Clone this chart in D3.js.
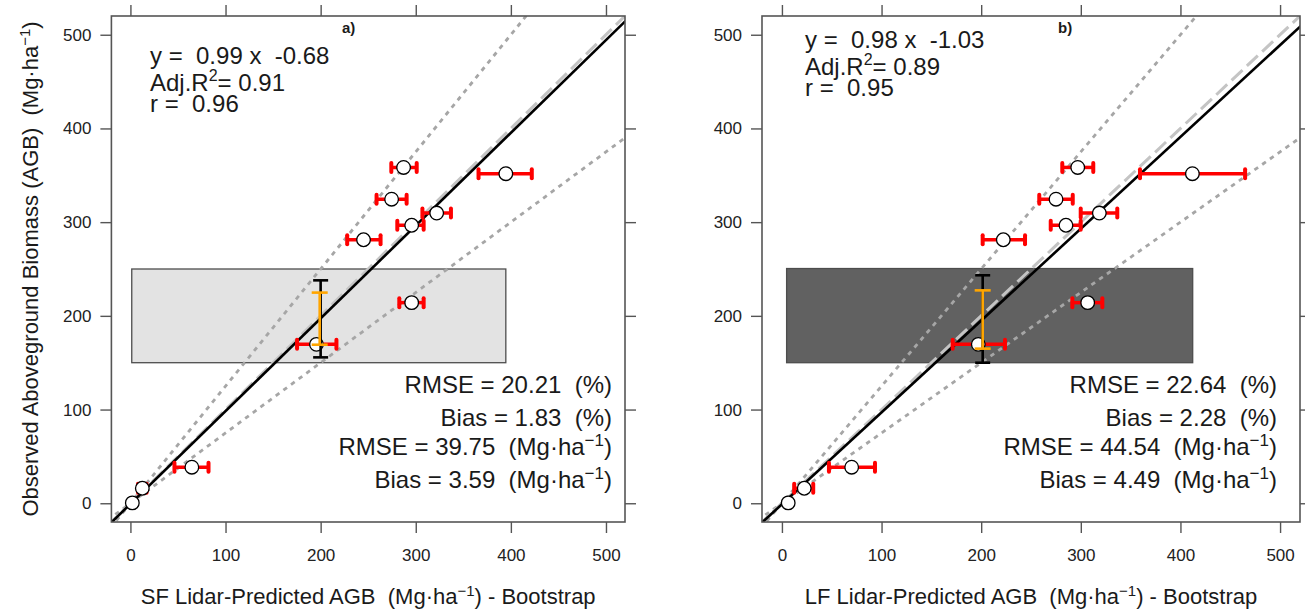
<!DOCTYPE html>
<html>
<head>
<meta charset="utf-8">
<script src="https://cdn.jsdelivr.net/npm/d3@7/dist/d3.min.js"></script>
<style>
  body { margin: 0; background: #ffffff; }
  svg { display: block; font-family: "Liberation Sans", Arial, Helvetica, sans-serif; }
  svg text { white-space: pre; }
</style>
</head>
<body>
<script>
// ---------------------------------- DATOS ---------------------------------------------------
// AGB observada (igual en los dos paneles)
const OBS_AGB = [0.4, 16.0, 38.5, 169.6, 214.1, 281.2, 296.7, 309.7, 324.5, 351.7, 358.4];

// panel a) SF - prediccion bootstrap y su intervalo
const SF_PRED = [2.0, 12.5, 64.6, 195.6, 295.7, 245.1, 295.7, 322.0, 274.6, 394.7, 287.2];
const SF_LO   = [0.5, 8.0, 46.3, 175.2, 282.7, 227.9, 280.6, 307.0, 258.8, 366.0, 274.3];
const SF_HI   = [3.5, 17.0, 82.1, 216.6, 308.3, 263.0, 308.3, 337.0, 290.4, 422.0, 301.0];

// panel b) LF
const LF_PRED = [6.3, 22.4, 70.0, 197.1, 306.9, 222.2, 285.1, 318.6, 275.1, 412.0, 296.9];
const LF_LO   = [4.5, 12.3, 47.2, 171.4, 291.5, 201.5, 269.8, 299.9, 258.3, 359.4, 281.4];
const LF_HI   = [8.0, 31.4, 93.4, 223.9, 321.6, 244.0, 299.9, 336.6, 291.9, 464.9, 312.5];

// ajuste lineal [pendiente, intercepto]
const SF_FIT = [0.99, -0.68];
const LF_FIT = [0.98, -1.03];

// rango 150-250 (rectangulo) y barras verticales [x, min, max]
const SF_RECT = [1.4, 394.7, 150, 250];
const LF_RECT = [4.7, 412.3, 150, 250.5];
const SF_BAR_BLACK  = [200, 155.7, 237.9];
const SF_BAR_ORANGE = [199, 169.2, 224.8];
const LF_BAR_BLACK  = [201.5, 150, 243.3];
const LF_BAR_ORANGE = [201.5, 165, 227.2];

// lineas punteadas (pendientes por el origen)
const DOTTED_SLOPES = [1.25, 0.75];

const TICKS = [0, 100, 200, 300, 400, 500];
const DOMAIN = [-20, 520];

// textos
const SF_EQ = ["y =  0.99 x  -0.68", "0.91", "r =  0.96"];
const LF_EQ = ["y =  0.98 x  -1.03", "0.89", "r =  0.95"];
const SF_STATS = ["20.21", "1.83", "39.75", "3.59"];
const LF_STATS = ["22.64", "2.28", "44.54", "4.49"];

// ---------------------------------------------------------------------------------------------
const WIDTH = 1305;
const HEIGHT = 609;
const SVG = d3.select("body").append("svg")
    .attr("width", WIDTH)
    .attr("height", HEIGHT);

const COLOR_FRAME = "#555555";

function panel(cfg) {
    const x = d3.scaleLinear().domain(DOMAIN).range([cfg.left, cfg.right]);
    const y = d3.scaleLinear().domain(DOMAIN).range([522, 16]);

    const g = SVG.append("g");

    g.append("clipPath").attr("id", "clip-" + cfg.id)
        .append("rect")
        .attr("x", cfg.left).attr("y", 16)
        .attr("width", cfg.right - cfg.left).attr("height", 506);

    const plot = g.append("g").attr("clip-path", `url(#clip-${cfg.id})`);

    // rectangulo gris
    plot.append("rect")
        .attr("x", x(cfg.rect[0]))
        .attr("y", y(cfg.rect[3]))
        .attr("width", x(cfg.rect[1]) - x(cfg.rect[0]))
        .attr("height", y(cfg.rect[2]) - y(cfg.rect[3]))
        .style("fill", cfg.rectFill)
        .style("stroke", "#4d4d4d")
        .style("stroke-width", 1.3);

    // lineas punteadas
    plot.selectAll(".punteada")
        .data(DOTTED_SLOPES)
        .enter()
        .append("line")
        .attr("x1", d => x(-40)).attr("y1", d => y(-40 * d))
        .attr("x2", d => x(600)).attr("y2", d => y(600 * d))
        .style("stroke", "#a6a6a6")
        .style("stroke-width", 2.8)
        .style("stroke-dasharray", "4.5,5");

    // linea 1:1
    plot.append("line")
        .attr("x1", x(-40)).attr("y1", y(-40))
        .attr("x2", x(600)).attr("y2", y(600))
        .style("stroke", "#c4c4c4")
        .style("stroke-width", 3)
        .style("stroke-dasharray", "15,6");

    // ajuste
    plot.append("line")
        .attr("x1", x(-40)).attr("y1", y(cfg.fit[0] * -40 + cfg.fit[1]))
        .attr("x2", x(600)).attr("y2", y(cfg.fit[0] * 600 + cfg.fit[1]))
        .style("stroke", "#000")
        .style("stroke-width", 2.6);

    // barras rojas horizontales
    const idx = d3.range(OBS_AGB.length);
    plot.selectAll(".barra")
        .data(idx)
        .enter()
        .append("line")
        .attr("x1", i => x(cfg.lo[i])).attr("x2", i => x(cfg.hi[i]))
        .attr("y1", i => y(OBS_AGB[i])).attr("y2", i => y(OBS_AGB[i]))
        .style("stroke", "#ff0000")
        .style("stroke-width", 3.5);
    const caps = idx.flatMap(i => [[cfg.lo[i], OBS_AGB[i]], [cfg.hi[i], OBS_AGB[i]]]);
    plot.selectAll(".cap")
        .data(caps)
        .enter()
        .append("line")
        .attr("x1", d => x(d[0])).attr("x2", d => x(d[0]))
        .attr("y1", d => y(d[1]) - 4.5).attr("y2", d => y(d[1]) + 4.5)
        .style("stroke", "#ff0000")
        .style("stroke-width", 4)
        .style("stroke-linecap", "round");

    // circulos
    plot.selectAll("circle")
        .data(idx)
        .enter()
        .append("circle")
        .attr("cx", i => x(cfg.pred[i]))
        .attr("cy", i => y(OBS_AGB[i]))
        .attr("r", 6.8)
        .style("fill", "#fff")
        .style("stroke", "#000")
        .style("stroke-width", 1.3);

    // barras verticales (negra y naranja)
    [[cfg.barBlack, "#000", 15], [cfg.barOrange, "#ffa500", 16]].forEach(([b, col, w]) => {
        const bar = plot.append("g").style("stroke", col).style("stroke-width", 2.6);
        bar.append("line")
            .attr("x1", x(b[0])).attr("x2", x(b[0]))
            .attr("y1", y(b[1])).attr("y2", y(b[2]));
        bar.selectAll(".c")
            .data([b[1], b[2]])
            .enter()
            .append("line")
            .attr("x1", x(b[0]) - w / 2).attr("x2", x(b[0]) + w / 2)
            .attr("y1", d => y(d)).attr("y2", d => y(d));
    });

    // marco
    g.append("rect")
        .attr("x", cfg.left).attr("y", 16)
        .attr("width", cfg.right - cfg.left).attr("height", 506)
        .style("fill", "none")
        .style("stroke", COLOR_FRAME)
        .style("stroke-width", 1.6);

    // ejes
    const ejes = [
        [d3.axisBottom(x).tickSize(11).tickPadding(16), `translate(0,522)`, true],
        [d3.axisLeft(y).tickSize(11).tickPadding(9), `translate(${cfg.left},0)`, true],
        [d3.axisTop(x).tickSize(11), `translate(0,16)`, false],
        [d3.axisRight(y).tickSize(11), `translate(${cfg.right},0)`, false]
    ];
    ejes.forEach(([axis, tr, labels]) => {
        axis.tickValues(TICKS).tickSizeOuter(0);
        if (!labels) axis.tickFormat("");
        const a = g.append("g").attr("transform", tr).call(axis);
        a.select(".domain").remove();
        a.selectAll("line").style("stroke", COLOR_FRAME).style("stroke-width", 1.4);
        a.selectAll("text")
            .style("font-family", "Liberation Sans, Arial, sans-serif")
            .style("font-size", "17px")
            .style("fill", "#222");
    });

    // etiqueta eje x
    const xt = g.append("text")
        .attr("x", (cfg.left + cfg.right) / 2)
        .attr("y", 603.5)
        .attr("text-anchor", "middle")
        .style("font-size", "22px")
        .style("fill", "#1a1a1a");
    xt.append("tspan").text(cfg.xLabel + " Lidar-Predicted AGB  (Mg·ha");
    xt.append("tspan").attr("dy", -8).style("font-size", "15px").text("\u22121");
    xt.append("tspan").attr("dy", 8).text(") - Bootstrap");

    // letra del panel
    g.append("text")
        .attr("x", cfg.letterX).attr("y", 33)
        .style("font-size", "15px")
        .style("font-weight", "bold")
        .style("fill", "#1a1a1a")
        .text(cfg.letter);

    // ecuacion
    const eq = g.append("g").style("font-size", "24px").style("fill", "#1a1a1a");
    eq.append("text").attr("x", cfg.eqX).attr("y", cfg.eqY[0]).text(cfg.eq[0]);
    const r2 = eq.append("text").attr("x", cfg.eqX).attr("y", cfg.eqY[1]);
    r2.append("tspan").text("Adj.R");
    r2.append("tspan").attr("dy", -10).style("font-size", "16px").text("2");
    r2.append("tspan").attr("dy", 10).text("= " + cfg.eq[1]);
    eq.append("text").attr("x", cfg.eqX).attr("y", cfg.eqY[2]).text(cfg.eq[2]);

    // estadisticos
    const st = g.append("g").style("font-size", "24px").style("fill", "#1a1a1a")
        .attr("text-anchor", "end");
    st.append("text").attr("x", cfg.statX).attr("y", 392.5)
        .text(`RMSE = ${cfg.stats[0]}  (%)`);
    st.append("text").attr("x", cfg.statX).attr("y", 425.5)
        .text(`Bias = ${cfg.stats[1]}  (%)`);
    [[cfg.stats[2], "RMSE", 455], [cfg.stats[3], "Bias", 488]].forEach(([v, lab, yy]) => {
        const t = st.append("text").attr("x", cfg.statX).attr("y", yy);
        t.append("tspan").text(`${lab} = ${v}  (Mg·ha`);
        t.append("tspan").attr("dy", -9).style("font-size", "17px").text("\u22121");
        t.append("tspan").attr("dy", 9).text(")");
    });
}

panel({
    id: "a", left: 111.4, right: 625, xLabel: "SF",
    pred: SF_PRED, lo: SF_LO, hi: SF_HI, fit: SF_FIT, rect: SF_RECT,
    rectFill: "#e3e3e3", barBlack: SF_BAR_BLACK, barOrange: SF_BAR_ORANGE,
    letter: "a)", letterX: 342, eq: SF_EQ, eqX: 150, eqY: [64, 91, 111.5],
    stats: SF_STATS, statX: 612
});

panel({
    id: "b", left: 762, right: 1300, xLabel: "LF",
    pred: LF_PRED, lo: LF_LO, hi: LF_HI, fit: LF_FIT, rect: LF_RECT,
    rectFill: "#616161", barBlack: LF_BAR_BLACK, barOrange: LF_BAR_ORANGE,
    letter: "b)", letterX: 1058, eq: LF_EQ, eqX: 805, eqY: [48, 75, 95.5],
    stats: LF_STATS, statX: 1277
});

// titulo eje y
const yt = SVG.append("text")
    .attr("transform", "translate(38,269) rotate(-90)")
    .attr("text-anchor", "middle")
    .style("font-size", "22px")
    .style("fill", "#1a1a1a");
yt.append("tspan").text("Observed Aboveground Biomass (AGB)  (Mg·ha");
yt.append("tspan").attr("dy", -8).style("font-size", "15px").text("\u22121");
yt.append("tspan").attr("dy", 8).text(")");
</script>
</body>
</html>
